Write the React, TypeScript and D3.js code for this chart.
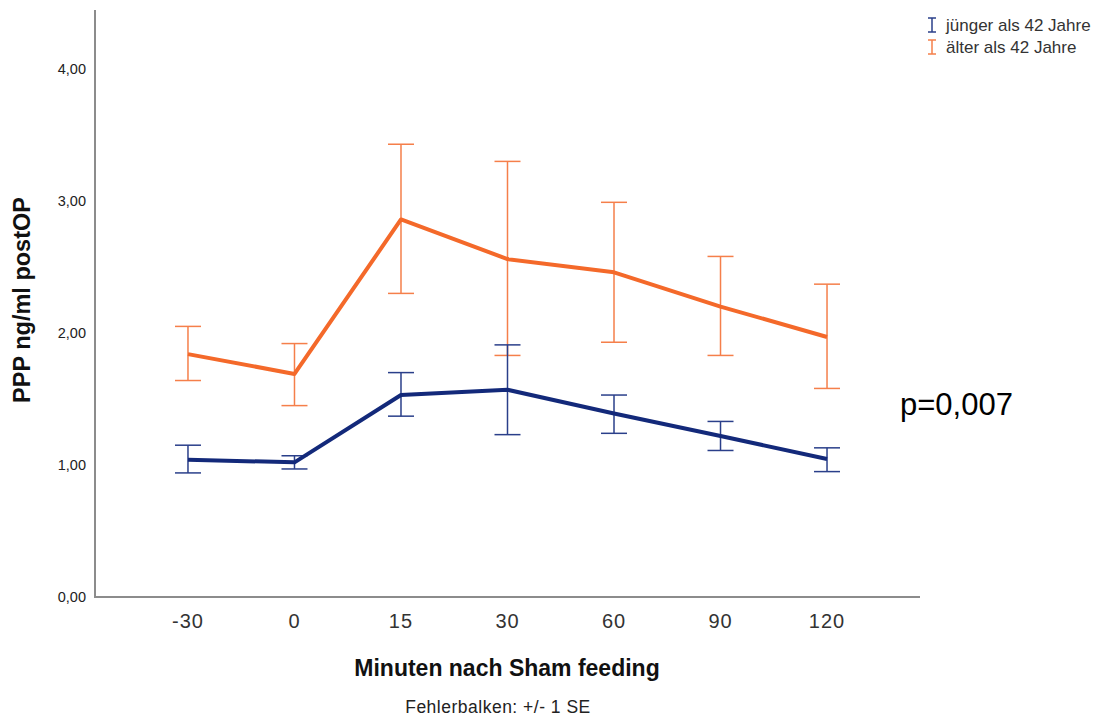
import React, { useRef, useEffect } from "react";
import * as d3 from "d3";

const categories = ["-30", "0", "15", "30", "60", "90", "120"];
const yTicks = [0, 1, 2, 3, 4];

const youngMean = [1.04, 1.02, 1.53, 1.57, 1.39, 1.22, 1.045];
const youngLow = [0.94, 0.97, 1.37, 1.23, 1.24, 1.11, 0.95];
const youngHigh = [1.15, 1.07, 1.7, 1.91, 1.53, 1.33, 1.13];

const oldMean = [1.84, 1.69, 2.86, 2.56, 2.46, 2.2, 1.97];
const oldLow = [1.64, 1.45, 2.3, 1.83, 1.93, 1.83, 1.58];
const oldHigh = [2.05, 1.92, 3.43, 3.3, 2.99, 2.58, 2.37];

const seriesNames = ["jünger als 42 Jahre", "älter als 42 Jahre"];

const App = () => {
  const svgRef = useRef<SVGSVGElement>(null);

  useEffect(() => {
    const svg = d3.select(svgRef.current);
    svg.selectAll("*").remove();

    const font = "'Liberation Sans', Arial, sans-serif";
    const left = 95, right = 920, top = 10, bottom = 597;

    const x = d3.scalePoint().domain(categories).range([left, right]).padding(0.873);
    const y = d3.scaleLinear().domain([0, 4]).range([bottom, 69]);

    const series = [
      { name: seriesNames[1], mean: oldMean, lo: oldLow, hi: oldHigh, line: "#f4692a", bar: "#f57f4a" },
      { name: seriesNames[0], mean: youngMean, lo: youngLow, hi: youngHigh, line: "#13297a", bar: "#2a3f8a" },
    ];

    // axes
    svg.append("line").attr("x1", left).attr("x2", left).attr("y1", top).attr("y2", bottom)
      .attr("stroke", "#8c8c8c").attr("stroke-width", 2);
    svg.append("line").attr("x1", left - 1).attr("x2", right).attr("y1", bottom).attr("y2", bottom)
      .attr("stroke", "#8c8c8c").attr("stroke-width", 2);

    svg.selectAll(".ytick").data(yTicks).join("text")
      .attr("x", 86).attr("y", (d) => y(d) + 5)
      .attr("text-anchor", "end").attr("font-family", font).attr("font-size", 14.5).attr("fill", "#222")
      .text((d) => d3.format(".2f")(d).replace(".", ","));

    svg.selectAll(".xtick").data(categories).join("text")
      .attr("x", (d) => x(d)!).attr("y", 628)
      .attr("text-anchor", "middle").attr("font-family", font).attr("font-size", 20).attr("fill", "#333")
      .attr("letter-spacing", 1)
      .text((d) => d);

    const line = d3.line<number>()
      .x((_, i) => x(categories[i])!)
      .y((d) => y(d));

    series.forEach((s) => {
      const g = svg.append("g");
      categories.forEach((c, i) => {
        const cx = x(c)!;
        g.append("line").attr("x1", cx).attr("x2", cx).attr("y1", y(s.lo[i])).attr("y2", y(s.hi[i]))
          .attr("stroke", s.bar).attr("stroke-width", 1.5);
        [s.lo[i], s.hi[i]].forEach((v) => {
          g.append("line").attr("x1", cx - 13).attr("x2", cx + 13).attr("y1", y(v)).attr("y2", y(v))
            .attr("stroke", s.bar).attr("stroke-width", 1.5);
        });
      });
      g.append("path").datum(s.mean).attr("d", line).attr("fill", "none")
        .attr("stroke", s.line).attr("stroke-width", 4).attr("stroke-linejoin", "round");
    });

    // legend
    const legend = [
      { name: seriesNames[0], color: "#2a3f8a", yy: 25 },
      { name: seriesNames[1], color: "#f57f4a", yy: 47 },
    ];
    legend.forEach((l) => {
      const g = svg.append("g");
      g.append("line").attr("x1", 932).attr("x2", 932).attr("y1", l.yy - 7).attr("y2", l.yy + 7)
        .attr("stroke", l.color).attr("stroke-width", 1.5);
      [l.yy - 7, l.yy + 7].forEach((yy) => {
        g.append("line").attr("x1", 928).attr("x2", 936).attr("y1", yy).attr("y2", yy)
          .attr("stroke", l.color).attr("stroke-width", 1.5);
      });
      g.append("text").attr("x", 946).attr("y", l.yy + 6).attr("font-family", font)
        .attr("font-size", 17).attr("fill", "#333").text(l.name);
    });

    // titles
    svg.append("text").attr("x", 507).attr("y", 676).attr("text-anchor", "middle")
      .attr("font-family", font).attr("font-size", 23).attr("font-weight", "bold").attr("fill", "#111")
      .text("Minuten nach Sham feeding");
    svg.append("text").attr("x", 498).attr("y", 713).attr("text-anchor", "middle")
      .attr("font-family", font).attr("font-size", 17.5).attr("fill", "#222").attr("letter-spacing", 0.5)
      .text("Fehlerbalken: +/- 1 SE");
    svg.append("text").attr("transform", "translate(30,300) rotate(-90)").attr("text-anchor", "middle")
      .attr("font-family", font).attr("font-size", 23.5).attr("font-weight", "bold").attr("fill", "#111")
      .text("PPP ng/ml postOP");
    svg.append("text").attr("x", 900).attr("y", 415)
      .attr("font-family", font).attr("font-size", 31).attr("fill", "#000")
      .text("p=0,007");
  }, []);

  return (
    <svg ref={svgRef} width={1115} height={720}
      style={{ position: "absolute", left: 0, top: 0, background: "#fff" }} />
  );
};

export default App;
